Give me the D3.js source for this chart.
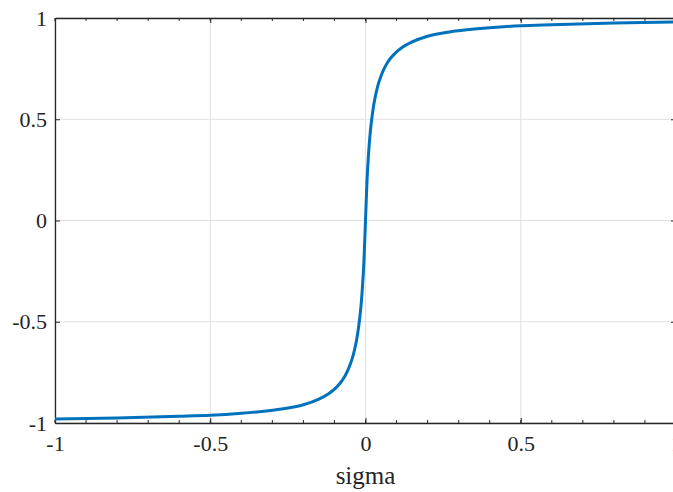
<!DOCTYPE html>
<html>
<head>
<meta charset="utf-8">
<script src="https://cdn.jsdelivr.net/npm/d3@7/dist/d3.min.js"></script>
<style>
  body { margin: 0; background: #fff; }
  svg { display: block; }
</style>
</head>
<body>
<script>
var width = 673
var height = 492

// curve
var sigma = [-1, -0.8, -0.6, -0.5, -0.4, -0.3, -0.25, -0.2, -0.15, -0.12, -0.1, -0.08, -0.07, -0.06, -0.05, -0.04, -0.03, -0.025, -0.02, -0.015, -0.01, -0.005, 0,
             0.005, 0.01, 0.015, 0.02, 0.025, 0.03, 0.04, 0.05, 0.06, 0.07, 0.08, 0.1, 0.12, 0.15, 0.2, 0.25, 0.3, 0.4, 0.5, 0.6, 0.8, 1]
var out = [-0.98, -0.975, -0.967, -0.962, -0.952, -0.937, -0.926, -0.91, -0.882, -0.857, -0.833, -0.80, -0.778, -0.75, -0.714, -0.667, -0.60, -0.556, -0.50, -0.43, -0.333, -0.2, 0,
           0.2, 0.333, 0.43, 0.50, 0.556, 0.60, 0.667, 0.714, 0.75, 0.778, 0.80, 0.833, 0.857, 0.882, 0.91, 0.926, 0.937, 0.952, 0.962, 0.967, 0.975, 0.98]

var xTicks = [-1, -0.5, 0, 0.5, 1]
var yTicks = [-1, -0.5, 0, 0.5, 1]
var xMinor = d3.range(-10, 11).map(function(d){ return d / 10; })
var xLabel = 'sigma'

var mLeft = 55, mTop = 18, mRight = 676, mBottom = 423
var axisColor = '#262626'
var gridColor = '#dfdfdf'
var font = '"Liberation Serif", "Times New Roman", serif'

var x = d3.scaleLinear().domain([-1, 1]).range([mLeft, mRight])
var y = d3.scaleLinear().domain([-1, 1]).range([mBottom, mTop])

var svg = d3.select('body')
            .append('svg')
            .attr('width', width)
            .attr('height', height)

// grid
svg.append('g').selectAll('line')
   .data(xTicks)
   .enter().append('line')
   .attr('x1', function(d){ return x(d); })
   .attr('x2', function(d){ return x(d); })
   .attr('y1', mTop).attr('y2', mBottom)
   .attr('stroke', gridColor)
   .attr('stroke-width', 1)
svg.append('g').selectAll('line')
   .data(yTicks)
   .enter().append('line')
   .attr('y1', function(d){ return y(d); })
   .attr('y2', function(d){ return y(d); })
   .attr('x1', mLeft).attr('x2', mRight)
   .attr('stroke', gridColor)
   .attr('stroke-width', 1)

// axes
function styleAxis(g) {
    g.select('.domain').attr('stroke', axisColor).attr('stroke-width', 1.3)
    g.selectAll('.tick line').attr('stroke', axisColor)
    g.selectAll('.tick text')
     .attr('fill', axisColor)
     .attr('font-family', font)
     .attr('font-size', '22px')
}

var fmt = function(d){ return String(d); }

var xAxis = svg.append('g')
   .attr('transform', 'translate(0,' + mBottom + ')')
   .call(d3.axisBottom(x).tickValues(xTicks).tickSizeInner(-5).tickSizeOuter(0).tickPadding(12).tickFormat(fmt))
styleAxis(xAxis)

var xAxisTop = svg.append('g')
   .attr('transform', 'translate(0,' + mTop + ')')
   .call(d3.axisTop(x).tickValues(xTicks).tickSizeInner(-5).tickSizeOuter(0).tickFormat(''))
styleAxis(xAxisTop)

// minor ticks
svg.append('g').selectAll('line')
   .data(xMinor)
   .enter().append('line')
   .attr('x1', function(d){ return x(d); })
   .attr('x2', function(d){ return x(d); })
   .attr('y1', mBottom).attr('y2', mBottom - 3)
   .attr('stroke', axisColor)
svg.append('g').selectAll('line')
   .data(xMinor)
   .enter().append('line')
   .attr('x1', function(d){ return x(d); })
   .attr('x2', function(d){ return x(d); })
   .attr('y1', mTop).attr('y2', mTop + 3)
   .attr('stroke', axisColor)

var yAxis = svg.append('g')
   .attr('transform', 'translate(' + mLeft + ',0)')
   .call(d3.axisLeft(y).tickValues(yTicks).tickSizeInner(-5).tickSizeOuter(0).tickPadding(8).tickFormat(fmt))
styleAxis(yAxis)

var yAxisRight = svg.append('g')
   .attr('transform', 'translate(' + mRight + ',0)')
   .call(d3.axisRight(y).tickValues(yTicks).tickSizeInner(-5).tickSizeOuter(0).tickFormat(''))
styleAxis(yAxisRight)

// curve
var line = d3.line()
   .x(function(d, i){ return x(sigma[i]); })
   .y(function(d){ return y(d); })
   .curve(d3.curveMonotoneX)

svg.append('path')
   .datum(out)
   .attr('d', line)
   .attr('fill', 'none')
   .attr('stroke', '#0072bd')
   .attr('stroke-width', 3)

// label
svg.append('text')
   .attr('x', x(0))
   .attr('y', 484)
   .attr('text-anchor', 'middle')
   .attr('font-family', font)
   .attr('font-size', '25px')
   .attr('fill', axisColor)
   .text(xLabel)
</script>
</body>
</html>
